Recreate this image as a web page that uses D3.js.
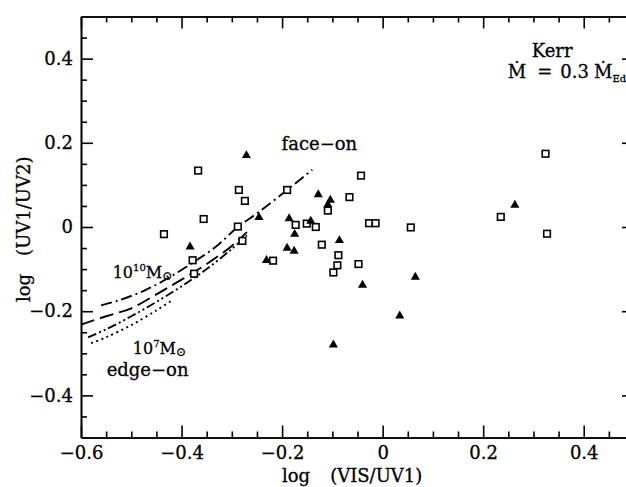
<!DOCTYPE html>
<html>
<head>
<meta charset="utf-8">
<script src="https://cdn.jsdelivr.net/npm/d3@7"></script>
<style>
  body { margin: 0; background: #fff; }
  svg { display: block; }
</style>
</head>
<body>
<script>
// points: open squares and filled triangles
const squares = [
    {x: -0.367, y: 0.134}, {x: -0.286, y: 0.088}, {x: -0.274, y: 0.062},
    {x: -0.190, y: 0.088}, {x: -0.356, y: 0.019}, {x: -0.288, y: 0.001},
    {x: -0.279, y: -0.033}, {x: -0.173, y: 0.005}, {x: -0.151, y: 0.008},
    {x: -0.133, y: 0.000}, {x: -0.218, y: -0.080}, {x: -0.378, y: -0.079},
    {x: -0.375, y: -0.111}, {x: -0.435, y: -0.017}, {x: -0.043, y: 0.122},
    {x: -0.109, y: 0.039}, {x: -0.066, y: 0.071}, {x: -0.027, y: 0.009},
    {x: -0.014, y: 0.009}, {x: 0.056, y: -0.001}, {x: -0.121, y: -0.042},
    {x: -0.088, y: -0.067}, {x: -0.090, y: -0.091}, {x: -0.048, y: -0.088},
    {x: -0.098, y: -0.108}, {x: 0.324, y: 0.174}, {x: 0.235, y: 0.024},
    {x: 0.327, y: -0.016}
];
const triangles = [
    {x: -0.271, y: 0.170}, {x: -0.128, y: 0.077}, {x: -0.246, y: 0.023},
    {x: -0.186, y: 0.020}, {x: -0.143, y: 0.014}, {x: -0.175, y: -0.017},
    {x: -0.190, y: -0.050}, {x: -0.176, y: -0.057}, {x: -0.231, y: -0.079},
    {x: -0.383, y: -0.047}, {x: -0.104, y: 0.064}, {x: -0.109, y: 0.053},
    {x: -0.086, y: -0.032}, {x: 0.065, y: -0.119}, {x: -0.040, y: -0.138},
    {x: 0.034, y: -0.211}, {x: -0.098, y: -0.280}, {x: 0.263, y: 0.052}
];

// model curves (10^10 Msun on top .. 10^7 Msun at the bottom)
const curveDashDot = [
    {x: -0.560, y: -0.186}, {x: -0.527, y: -0.175}, {x: -0.474, y: -0.151},
    {x: -0.429, y: -0.123}, {x: -0.378, y: -0.085}, {x: -0.330, y: -0.045},
    {x: -0.288, y: 0.000}, {x: -0.246, y: 0.036}, {x: -0.190, y: 0.088},
    {x: -0.140, y: 0.136}
];
const curveLongDash = [
    {x: -0.600, y: -0.232}, {x: -0.550, y: -0.212}, {x: -0.500, y: -0.193},
    {x: -0.450, y: -0.160}, {x: -0.400, y: -0.125}, {x: -0.350, y: -0.088},
    {x: -0.300, y: -0.045}, {x: -0.270, y: -0.012}
];
const curveDashDotDot = [
    {x: -0.586, y: -0.262}, {x: -0.550, y: -0.243}, {x: -0.500, y: -0.212},
    {x: -0.450, y: -0.178}, {x: -0.400, y: -0.141}, {x: -0.350, y: -0.100},
    {x: -0.300, y: -0.052}, {x: -0.270, y: -0.020}
];
const curveDotted = [
    {x: -0.580, y: -0.276}, {x: -0.550, y: -0.262}, {x: -0.500, y: -0.233},
    {x: -0.450, y: -0.198}, {x: -0.420, y: -0.175}
];

const xMajor = [-0.6, -0.4, -0.2, 0, 0.2, 0.4];
const xMinor = [-0.55, -0.5, -0.45, -0.35, -0.3, -0.25, -0.15, -0.1, -0.05,
                0.05, 0.1, 0.15, 0.25, 0.3, 0.35, 0.45];
const yMajor = [-0.4, -0.2, 0, 0.2, 0.4];
const yMinor = [-0.45, -0.35, -0.3, -0.25, -0.15, -0.1, -0.05,
                0.05, 0.1, 0.15, 0.25, 0.3, 0.35, 0.45];

const width = 626;
const height = 487;
const serif = "'DejaVu Serif', serif";

const svg = d3.select("body").append("svg")
    .attr("width", width)
    .attr("height", height);

// the frame runs a bit past the right edge of the picture (x = 0.5)
const x = d3.scaleLinear().domain([-0.6, 0.5]).range([81, 634]);
const y = d3.scaleLinear().domain([-0.5, 0.5]).range([437.5, 16.5]);

const fmt = (d) => d === 0 ? "0" : d3.format(".1f")(d);

function drawAxis(axis, tx, ty, withLabels) {
    const g = svg.append("g")
        .attr("transform", `translate(${tx},${ty})`)
        .call(axis);
    g.selectAll("path, line")
        .attr("stroke", "#000")
        .attr("stroke-width", 1.6);
    g.attr("font-family", serif).attr("font-size", 18);
    g.selectAll("text").attr("fill", "#000")
        .attr("stroke", "#000").attr("stroke-width", 0.3);
    if (!withLabels) g.selectAll("text").remove();
    return g;
}

// ticks point inwards on all four sides
drawAxis(d3.axisBottom(x).tickValues(xMajor).tickFormat(fmt)
    .tickSizeInner(-12).tickSizeOuter(0).tickPadding(9), 0, y(-0.5), true);
drawAxis(d3.axisBottom(x).tickValues(xMinor).tickFormat("")
    .tickSizeInner(-6).tickSizeOuter(0), 0, y(-0.5), false);
drawAxis(d3.axisTop(x).tickValues(xMajor)
    .tickSizeInner(-12).tickSizeOuter(0), 0, y(0.5), false);
drawAxis(d3.axisTop(x).tickValues(xMinor)
    .tickSizeInner(-6).tickSizeOuter(0), 0, y(0.5), false);
drawAxis(d3.axisLeft(y).tickValues(yMajor).tickFormat(fmt)
    .tickSizeInner(-12).tickSizeOuter(0).tickPadding(8), x(-0.6), 0, true);
drawAxis(d3.axisLeft(y).tickValues(yMinor).tickFormat("")
    .tickSizeInner(-6).tickSizeOuter(0), x(-0.6), 0, false);
drawAxis(d3.axisRight(y).tickValues(yMajor)
    .tickSizeInner(-12).tickSizeOuter(0), x(0.5), 0, false);
drawAxis(d3.axisRight(y).tickValues(yMinor)
    .tickSizeInner(-6).tickSizeOuter(0), x(0.5), 0, false);

// curves
const line = d3.line()
    .x((d) => x(d.x))
    .y((d) => y(d.y))
    .curve(d3.curveCatmullRom);

const curves = [
    {data: curveDashDot, dash: "11,4,2,4"},
    {data: curveLongDash, dash: "14,6"},
    {data: curveDashDotDot, dash: "9,3,2,3,2,3"},
    {data: curveDotted, dash: "2,3.5"}
];
curves.forEach((c) => {
    svg.append("path")
        .attr("d", line(c.data))
        .attr("fill", "none")
        .attr("stroke", "#000")
        .attr("stroke-width", 1.9)
        .attr("stroke-dasharray", c.dash);
});

// markers
svg.append("g").selectAll("rect")
    .data(squares)
    .join("rect")
    .attr("x", (d) => x(d.x) - 3.3)
    .attr("y", (d) => y(d.y) - 3.3)
    .attr("width", 6.6)
    .attr("height", 6.6)
    .attr("fill", "#fff")
    .attr("stroke", "#000")
    .attr("stroke-width", 1.6);

const tri = d3.symbol().type(d3.symbolTriangle).size(36);
svg.append("g").selectAll("path")
    .data(triangles)
    .join("path")
    .attr("d", tri)
    .attr("transform", (d) => `translate(${x(d.x)},${y(d.y)})`)
    .attr("fill", "#000");

// labels
function label(text, px, py, size) {
    return svg.append("text")
        .attr("x", px)
        .attr("y", py)
        .attr("font-family", serif)
        .attr("font-size", size)
        .attr("fill", "#000")
        .attr("stroke", "#000")
        .attr("stroke-width", 0.3)
        .text(text);
}

label("face\u2212on", x(-0.201), y(0.183), 18);
label("Kerr", x(0.2965), y(0.404), 18);
// M-dot = 0.3 M-dot_Edd, spaced out like the original (runs off the right edge)
const mdot = label("\u1E40", x(0.249), y(0.354), 18);
mdot.append("tspan").attr("dx", 11).text("=");
mdot.append("tspan").attr("dx", 8).text("0.3");
mdot.append("tspan").attr("dx", 5).text("\u1E40");
mdot.append("tspan").attr("font-size", 10).attr("dy", 4).text("Edd");

const m10 = label("10", x(-0.537), y(-0.12), 16);
m10.append("tspan").attr("font-size", 10).attr("dy", -7).text("10");
m10.append("tspan").attr("dy", 7).text("M");
m10.append("tspan").attr("font-size", 12).attr("dy", 2).text("\u2299");

const m7 = label("10", x(-0.497), y(-0.302), 16);
m7.append("tspan").attr("font-size", 10).attr("dy", -7).text("7");
m7.append("tspan").attr("dy", 7).text("M");
m7.append("tspan").attr("font-size", 12).attr("dy", 2).text("\u2299");

label("edge\u2212on", x(-0.549), y(-0.355), 18);

// axis titles
const xt = label("log", 282, 482, 18);
xt.append("tspan").attr("dx", 20).text("(VIS/UV1)");

const yt = svg.append("text")
    .attr("transform", "translate(30,302) rotate(-90)")
    .attr("font-family", serif)
    .attr("font-size", 18)
    .attr("fill", "#000")
    .attr("stroke", "#000")
    .attr("stroke-width", 0.3)
    .text("log");
yt.append("tspan").attr("dx", 18).text("(UV1/UV2)");
</script>
</body>
</html>
